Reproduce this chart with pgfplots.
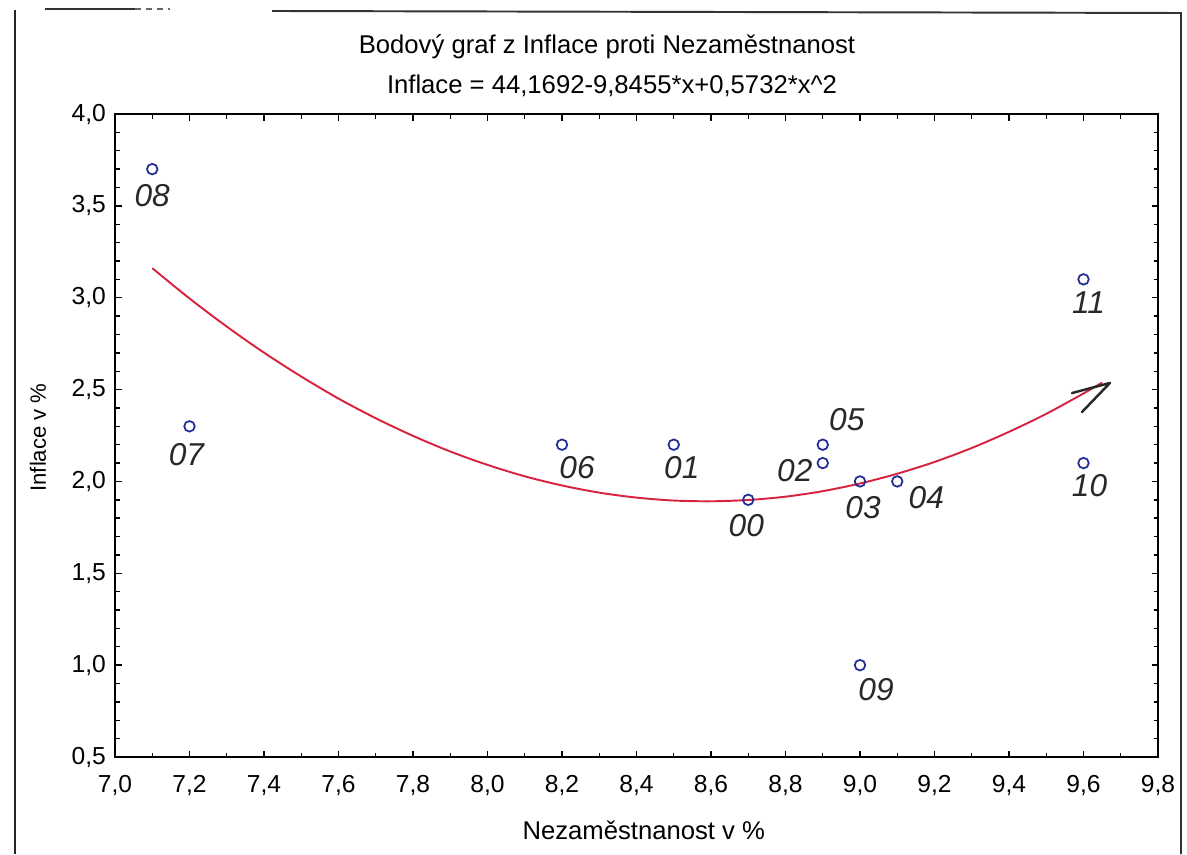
\documentclass[border=0pt]{standalone}
\usepackage{fontspec}
\setmainfont{Liberation Sans}
\usepackage{pgfplots}
\pgfplotsset{compat=1.18}
\definecolor{ptblue}{RGB}{35,45,150}
\definecolor{fitred}{RGB}{215,35,65}
\definecolor{pen}{RGB}{40,40,40}
\tikzset{hw/.style={font=\fontsize{18}{18}\selectfont\itshape, text=pen, inner sep=0pt}}

\begin{document}
\begin{tikzpicture}
\useasboundingbox (0,0) rectangle (23.74,17.08);
\begin{axis}[
  at={(2.30cm,1.94cm)}, anchor=south west,
  scale only axis, width=20.86cm, height=12.86cm,
  xmin=7.0, xmax=9.8, ymin=0.5, ymax=4.0,
  xtick={7.0,7.2,7.4,7.6,7.8,8.0,8.2,8.4,8.6,8.8,9.0,9.2,9.4,9.6,9.8},
  ytick={0.5,1.0,1.5,2.0,2.5,3.0,3.5,4.0},
  minor x tick num=1, minor y tick num=4,
  tick align=inside,
  major tick length=0.13cm, minor tick length=0.09cm,
  axis line style={line width=1.1pt},
  every tick/.style={black, line width=0.8pt},
  ticklabel style={font=\fontsize{14}{16}\selectfont},
  xticklabel style={yshift=-0.24cm},
  yticklabel style={xshift=-0.06cm},
  /pgf/number format/fixed,
  /pgf/number format/fixed zerofill,
  /pgf/number format/precision=1,
  /pgf/number format/use comma,
  /pgf/number format/assume math mode=true,
  clip=false,
  xlabel={Nezaměstnanost v \%},
  ylabel={Inflace v \%},
  every axis x label/.style={at={(axis description cs:0.507,-0.1135)}, anchor=center,
    font=\fontsize{14.6}{17}\selectfont},
  every axis y label/.style={at={(axis description cs:-0.0738,0.497)}, anchor=center, rotate=90,
    font=\fontsize{12.6}{15}\selectfont},
]

% quadratic fit: Inflace = 44.1692 - 9.8455 x + 0.5732 x^2
\addplot[fitred, line width=1.1pt, smooth] coordinates {
  (7.1,3.161) (7.2,2.996) (7.3,2.843) (7.4,2.701) (7.5,2.571)
  (7.6,2.451) (7.7,2.344) (7.8,2.248) (7.9,2.163) (8.0,2.090)
  (8.1,2.028) (8.2,1.978) (8.3,1.939) (8.4,1.912) (8.5,1.896)
  (8.6,1.892) (8.7,1.899) (8.8,1.917) (8.9,1.947) (9.0,1.989)
  (9.1,2.042) (9.2,2.106) (9.3,2.182) (9.4,2.270) (9.5,2.368)
  (9.6,2.479) (9.65,2.538)
};

% yearly observations (unemployment, inflation)
\addplot[only marks, mark=o, mark size=3pt, ptblue, mark options={line width=1pt}] coordinates {
  (8.7,1.9) (8.5,2.2) (8.9,2.1) (9.0,2.0) (9.1,2.0) (8.9,2.2)
  (8.2,2.2) (7.2,2.3) (7.1,3.7) (9.0,1.0) (9.6,2.1) (9.6,3.1)
};

% hand-drawn arrow head at the end of the fit
\draw[pen, line width=1.4pt, line cap=round, line join=round]
  (axis cs:9.569,2.481) -- (axis cs:9.671,2.536) -- (axis cs:9.596,2.378);

% year labels
\node[hw, xshift=-0.04cm, yshift=-0.52cm] at (axis cs:8.7,1.9) {00};
\node[hw, xshift=0.16cm, yshift=-0.46cm] at (axis cs:8.5,2.2) {01};
\node[hw, xshift=-0.56cm, yshift=-0.16cm] at (axis cs:8.9,2.1) {02};
\node[hw, xshift=0.06cm, yshift=-0.52cm] at (axis cs:9.0,2.0) {03};
\node[hw, xshift=0.58cm, yshift=-0.32cm] at (axis cs:9.1,2.0) {04};
\node[hw, xshift=0.48cm, yshift=0.50cm] at (axis cs:8.9,2.2) {05};
\node[hw, xshift=0.30cm, yshift=-0.46cm] at (axis cs:8.2,2.2) {06};
\node[hw, xshift=-0.06cm, yshift=-0.56cm] at (axis cs:7.2,2.3) {07};
\node[hw, xshift=0.00cm, yshift=-0.52cm] at (axis cs:7.1,3.7) {08};
\node[hw, xshift=0.32cm, yshift=-0.48cm] at (axis cs:9.0,1.0) {09};
\node[hw, xshift=0.12cm, yshift=-0.46cm] at (axis cs:9.6,2.1) {10};
\node[hw, xshift=0.10cm, yshift=-0.46cm] at (axis cs:9.6,3.1) {11};

% two-line title
\node[font=\fontsize{14.6}{17}\selectfont, anchor=center] at (rel axis cs:0.4717,1.104)
  {Bodový graf z Inflace proti Nezaměstnanost};
\node[font=\fontsize{14.6}{17}\selectfont, anchor=center] at (rel axis cs:0.4765,1.0435)
  {Inflace = 44,1692-9,8455*x+0,5732*x\textasciicircum 2};
\end{axis}

% page frame
\draw[line width=1.1pt, black!85] (0.30,16.88) -- (0.30,0);
\draw[line width=1.1pt, black!80] (0.90,16.90) -- (2.70,16.90);
\draw[line width=1.1pt, black!60, dash pattern=on 0.12cm off 0.1cm] (2.70,16.90) -- (3.40,16.90);
\draw[line width=1.1pt, black!80] (5.44,16.86) -- (23.62,16.82) -- (23.62,0);
\end{tikzpicture}
\end{document}
